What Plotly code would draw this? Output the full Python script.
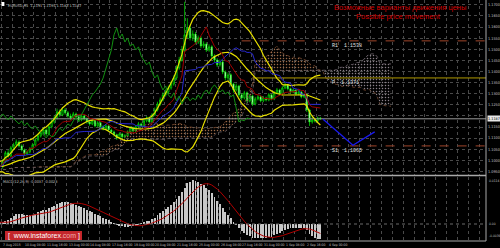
import datetime as dt
import numpy as np
import pandas as pd
import plotly.graph_objects as go

# ---------------- data ----------------
symbol = "EURUSD,H4"
first_open = 1.0975
closes = [1.0993,1.1034,1.1020,1.1056,1.1070,1.1083,1.1065,1.1047,1.1029,1.1038,
 1.1052,1.1070,1.1092,1.1110,1.1124,1.1137,1.1119,1.1151,1.1173,1.1191,
 1.1218,1.1205,1.1227,1.1214,1.1200,1.1191,1.1209,1.1196,1.1182,1.1200,
 1.1187,1.1173,1.1164,1.1178,1.1155,1.1169,1.1151,1.1142,1.1155,1.1137,
 1.1128,1.1115,1.1101,1.1119,1.1106,1.1110,1.1128,1.1146,1.1133,1.1151,
 1.1164,1.1155,1.1178,1.1191,1.1173,1.1205,1.1227,1.1254,1.1272,1.1295,
 1.1308,1.1326,1.1344,1.1371,1.1416,1.1452,1.1497,1.1565,1.1596,1.1551,
 1.1569,1.1533,1.1551,1.1515,1.1524,1.1497,1.1511,1.1470,1.1452,1.1430,
 1.1443,1.1398,1.1371,1.1385,1.1344,1.1317,1.1335,1.1295,1.1281,1.1304,
 1.1268,1.1290,1.1254,1.1277,1.1286,1.1268,1.1281,1.1272,1.1295,1.1277,
 1.1304,1.1317,1.1299,1.1326,1.1340,1.1322,1.1308,1.1317,1.1299,1.1308,
 1.1286,1.1295,1.1227,1.1173,1.1182,1.1178,1.1191,1.1187]
highs = [1.1005,1.1042,1.1046,1.1064,1.1079,1.1094,1.1090,1.1072,1.1053,1.1045,
 1.1060,1.1078,1.1101,1.1121,1.1133,1.1148,1.1144,1.1160,1.1184,1.1203,
 1.1233,1.1229,1.1240,1.1236,1.1222,1.1210,1.1218,1.1215,1.1203,1.1208,
 1.1206,1.1193,1.1180,1.1186,1.1183,1.1177,1.1174,1.1158,1.1163,1.1160,
 1.1143,1.1134,1.1120,1.1126,1.1124,1.1118,1.1135,1.1154,1.1152,1.1159,
 1.1173,1.1170,1.1186,1.1199,1.1197,1.1213,1.1238,1.1264,1.1283,1.1306,
 1.1320,1.1337,1.1356,1.1383,1.1428,1.1466,1.1515,1.1714,1.1640,1.1610,
 1.1585,1.1578,1.1562,1.1560,1.1536,1.1532,1.1522,1.1518,1.1478,1.1460,
 1.1454,1.1450,1.1405,1.1396,1.1392,1.1350,1.1346,1.1340,1.1302,1.1313,
 1.1310,1.1299,1.1296,1.1286,1.1294,1.1292,1.1289,1.1287,1.1303,1.1300,
 1.1312,1.1326,1.1322,1.1334,1.1349,1.1344,1.1327,1.1324,1.1320,1.1316,
 1.1312,1.1302,1.1299,1.1232,1.1195,1.1190,1.1197,1.1195]
lows = [1.0962,1.0988,1.1012,1.1015,1.1049,1.1062,1.1058,1.1040,1.1020,1.1022,
 1.1031,1.1046,1.1064,1.1085,1.1103,1.1116,1.1110,1.1113,1.1144,1.1165,
 1.1184,1.1196,1.1199,1.1206,1.1192,1.1182,1.1185,1.1188,1.1174,1.1176,
 1.1180,1.1165,1.1156,1.1158,1.1148,1.1149,1.1144,1.1135,1.1136,1.1130,
 1.1120,1.1107,1.1092,1.1095,1.1098,1.1099,1.1104,1.1122,1.1126,1.1127,
 1.1145,1.1148,1.1150,1.1171,1.1166,1.1168,1.1199,1.1220,1.1246,1.1265,
 1.1287,1.1300,1.1318,1.1336,1.1362,1.1408,1.1444,1.1488,1.1548,1.1540,
 1.1538,1.1522,1.1524,1.1505,1.1506,1.1488,1.1489,1.1460,1.1442,1.1420,
 1.1422,1.1388,1.1360,1.1362,1.1333,1.1305,1.1310,1.1284,1.1270,1.1274,
 1.1258,1.1261,1.1245,1.1248,1.1270,1.1261,1.1262,1.1265,1.1266,1.1270,
 1.1271,1.1298,1.1292,1.1293,1.1320,1.1315,1.1300,1.1302,1.1292,1.1293,
 1.1279,1.1280,1.1218,1.1155,1.1165,1.1170,1.1172,1.1183]
# closes before the visible window (indicator warm-up)
prior_closes = [1.0960,1.0972,1.0958,1.0945,1.0952,1.0968,1.0981,1.0975,1.0990,1.0984,
 1.0971,1.0963,1.0955,1.0949,1.0961,1.0976,1.0988,1.0995,1.0983,1.0970,
 1.0962,1.0958,1.0966,1.0979,1.0987,1.0981,1.0973,1.0969,1.0978,1.0975]

pivot_names = ["R1", "P", "S1"]
pivot_values = [1.1538, 1.1371, 1.1065]
pivot_start_bar = [88, 92, 88]

proj_bars = [118, 129, 137]
proj_prices = [1.1185, 1.1068, 1.1128]

title_ru = "Возможные варианты движения цены"
title_en = "Possible price movement"
start_time = dt.datetime(2015, 8, 7, 0, 0)

# ---------------- derived series ----------------
n = len(closes)
opens = [first_open] + closes[:-1]
idx = np.arange(n)
n_prior = len(prior_closes)
full_idx = np.arange(-n_prior, n)
c_all = pd.Series(prior_closes + closes)
h_all = pd.Series(prior_closes + highs)
l_all = pd.Series(prior_closes + lows)

sma = c_all.rolling(20, min_periods=1).mean()
sd = c_all.rolling(20, min_periods=1).std(ddof=0)
bb_up, bb_dn = sma + 2 * sd, sma - 2 * sd

tenkan = (h_all.rolling(9, min_periods=1).max() + l_all.rolling(9, min_periods=1).min()) / 2
kijun = (h_all.rolling(26, min_periods=1).max() + l_all.rolling(26, min_periods=1).min()) / 2
spanA = (tenkan + kijun) / 2
spanB = (h_all.rolling(52, min_periods=1).max() + l_all.rolling(52, min_periods=1).min()) / 2
kumo_x = full_idx + 26
kumo_lo = np.minimum(spanA, spanB)

ema12 = c_all.ewm(span=12, adjust=False).mean()
ema26 = c_all.ewm(span=26, adjust=False).mean()
macd = ema12 - ema26
signal = macd.rolling(9, min_periods=1).mean()

# bar times (H4, weekdays only)
times = []
t = start_time
while len(times) < n + 10:
    if t.weekday() < 5:
        times.append(t)
    t += dt.timedelta(hours=4)

# ---------------- figure ----------------
W, H = 500, 248
M_T, M_B, M_R = 0, 7, 14
PH = H - M_T - M_B
main_dom = [1 - 175 / PH, 1]
macd_dom = [1 - 240 / PH, 1 - 177 / PH]
XR = [-1, 178]
p_lo, p_hi = 1.0934, 1.1722
LBL = dict(size=3.8, color="#c0c0c0", family="DejaVu Sans Condensed, DejaVu Sans")

fig = go.Figure()

# Kumo
fig.add_trace(go.Scatter(x=kumo_x, y=kumo_lo, mode="lines", line=dict(width=0), hoverinfo="skip"))
fig.add_trace(go.Scatter(x=kumo_x, y=spanA, mode="lines", line=dict(color="#7a4a30", width=0.8, dash="dot"),
                         fill="tonexty", fillcolor="rgba(0,0,0,0)",
                         fillpattern=dict(shape=".", fgcolor="#9a6a48", bgcolor="rgba(0,0,0,0)", size=3, solidity=0.2)))
fig.add_trace(go.Scatter(x=kumo_x, y=kumo_lo, mode="lines", line=dict(width=0), hoverinfo="skip"))
fig.add_trace(go.Scatter(x=kumo_x, y=spanB, mode="lines", line=dict(color="#6a6068", width=0.8, dash="dot"),
                         fill="tonexty", fillcolor="rgba(0,0,0,0)",
                         fillpattern=dict(shape=".", fgcolor="#8a8088", bgcolor="rgba(0,0,0,0)", size=3, solidity=0.2)))

# current price line
fig.add_trace(go.Scatter(x=XR, y=[closes[-1]] * 2, mode="lines", line=dict(color="#9a9a9a", width=1)))

# pivots
piv_colors = ["#a0452a", "#b09a00", "#a0452a"]
piv_dash = ["dash", "solid", "dash"]
for name, v, s, col, ds in zip(pivot_names, pivot_values, pivot_start_bar, piv_colors, piv_dash):
    fig.add_trace(go.Scatter(x=[s, XR[1]], y=[v, v], mode="lines", line=dict(color=col, width=1, dash=ds)))
    fig.add_annotation(x=120.5, y=v, xref="x", yref="y", text=f"{name}  {v:.4f}", showarrow=False,
                       xanchor="left", yanchor="top", yshift=0,
                       font=dict(size=5, color="#e0e0e0", family="Liberation Mono, DejaVu Sans Mono"))

# Bollinger
for ser in (bb_up, sma, bb_dn):
    fig.add_trace(go.Scatter(x=full_idx, y=ser, mode="lines", line=dict(color="#e8e000", width=1.2)))
# Ichimoku lines
fig.add_trace(go.Scatter(x=full_idx, y=kijun, mode="lines", line=dict(color="#2828d0", width=1)))
fig.add_trace(go.Scatter(x=full_idx, y=tenkan, mode="lines", line=dict(color="#a00000", width=1)))
fig.add_trace(go.Scatter(x=full_idx - 26, y=c_all, mode="lines", line=dict(color="#129012", width=1)))

# projection
fig.add_trace(go.Scatter(x=proj_bars, y=proj_prices, mode="lines", line=dict(color="#1a1af0", width=1.3)))

# candles
fig.add_trace(go.Candlestick(x=idx, open=opens, high=highs, low=lows, close=closes,
                             increasing=dict(line=dict(color="#00ee00", width=0.7), fillcolor="#000000"),
                             decreasing=dict(line=dict(color="#00ee00", width=0.7), fillcolor="#ffffff"),
                             whiskerwidth=0))

# MACD
fig.add_trace(go.Bar(x=full_idx, y=macd, marker=dict(color="#c8c8c8", line=dict(width=0)), width=0.35,
                     xaxis="x2", yaxis="y2"))
fig.add_trace(go.Scatter(x=full_idx, y=signal, mode="lines", line=dict(color="#b00000", width=1),
                         xaxis="x2", yaxis="y2"))

m_hi = float(macd[full_idx >= 0].max()) * 1.08
m_lo = -m_hi * 16 / 47

ticks = [round(1.095 + 0.005 * k, 4) for k in range(16)]
tick_txt = ["" if abs(v - closes[-1]) < 0.003 else f"{v:.4f}" for v in ticks]
fig.update_layout(
    width=W, height=H, margin=dict(l=0, r=M_R, t=M_T, b=M_B),
    paper_bgcolor="#000000", plot_bgcolor="#000000", showlegend=False, template="none",
    font=dict(family="DejaVu Sans Condensed, DejaVu Sans", color="#c0c0c0"),
    xaxis=dict(domain=[0, 1], anchor="y", range=XR, showticklabels=False, ticks="",
               tick0=-0.5, dtick=4, showgrid=True, gridcolor="#4a4a4a", griddash="dot", gridwidth=1,
               zeroline=False, rangeslider=dict(visible=False), showline=False),
    xaxis2=dict(domain=[0, 1], anchor="y2", matches="x", range=XR, showticklabels=False, ticks="",
                tick0=-0.5, dtick=4, showgrid=True, gridcolor="#4a4a4a", griddash="dot", gridwidth=1,
                zeroline=False, showline=False),
    yaxis=dict(domain=main_dom, range=[p_lo, p_hi], side="right", tickvals=ticks,
               ticktext=tick_txt, tickfont=LBL,
               ticks="", showgrid=True, gridcolor="#4a4a4a", griddash="dot", gridwidth=1,
               zeroline=False, automargin=False, ticklabelstandoff=1),
    yaxis2=dict(domain=macd_dom, range=[m_lo, m_hi], side="right", showticklabels=False, ticks="",
                showgrid=False, zeroline=False, automargin=False),
    bargap=0,
)

# frame lines
fig.add_shape(type="line", xref="paper", yref="paper", x0=0, x1=1, y0=1 - 175.5 / PH, y1=1 - 175.5 / PH,
              line=dict(color="#a8a8a8", width=1.5))
fig.add_shape(type="line", xref="paper", yref="paper", x0=1, x1=1, y0=0, y1=1, line=dict(color="#a8a8a8", width=1))
fig.add_shape(type="line", xref="paper", yref="paper", x0=0, x1=1, y0=0, y1=0, line=dict(color="#a8a8a8", width=1))
fig.add_shape(type="line", xref="x2", yref="y2", x0=XR[0], x1=XR[1], y0=0, y1=0,
              line=dict(color="#6a6a6a", width=1, dash="dot"))

# current price tag
fig.add_annotation(xref="paper", yref="y", x=1, y=closes[-1], xanchor="left", text=f"{closes[-1]:.4f}",
                   showarrow=False, bgcolor="#e8e8e8", borderpad=0, xshift=0.5,
                   font=dict(size=3.8, color="#000000", family=LBL["family"]))

# MACD labels
SM = dict(LBL, size=3.3)
for val, txt, ya in ((m_hi, f"{m_hi:.4f}", "top"), (0, "0.00", "middle"), (m_lo, f"{m_lo:.4f}", "bottom")):
    fig.add_annotation(xref="paper", yref="y2", x=1, y=val, xanchor="left", yanchor=ya, text=txt,
                       showarrow=False, xshift=0.5, font=SM)
fig.add_annotation(xref="x", yref="paper", x=-0.5, y=1 - 177 / PH, xanchor="left", yanchor="top",
                   text=f"MACD(12,26,9) {macd.iloc[-1]:.4f} {signal.iloc[-1]:.4f}", showarrow=False,
                   font=LBL)

# header
fig.add_shape(type="rect", xref="paper", yref="paper", x0=0.003, x1=0.009, y0=1 - 6 / PH, y1=1 - 2 / PH,
              fillcolor="#ffffff", line=dict(width=0))
fig.add_annotation(xref="paper", yref="paper", x=0.012, y=1 - 1 / PH, xanchor="left", yanchor="top",
                   text=f"{symbol}  {opens[-1]:.4f} {highs[-1]:.4f} {lows[-1]:.4f} {closes[-1]:.4f}",
                   showarrow=False, font=LBL)
fig.add_annotation(xref="paper", yref="paper", x=400 / 486, y=1 - 1 / PH, xanchor="center", yanchor="top",
                   text=title_ru, showarrow=False, font=dict(size=7.5, color="#d00000", family="Liberation Sans"))
fig.add_annotation(xref="paper", yref="paper", x=398 / 486, y=1 - 10 / PH, xanchor="center", yanchor="top",
                   text=title_en, showarrow=False, font=dict(size=7.5, color="#d00000", family="Liberation Sans"))

# time labels
for i in range(0, 121, 8):
    tt = times[i]
    lab = f"{tt.day} {tt:%b} {tt.year}" if i == 0 else f"{tt.day} {tt:%b} {tt:%H:%M}"
    fig.add_annotation(xref="x", yref="paper", x=i - 0.5, y=0, xanchor="left", yanchor="top", yshift=0,
                       text=lab, showarrow=False, font=dict(size=3.4, color="#c0c0c0", family=LBL["family"]))

# logo
fig.add_shape(type="rect", xref="paper", yref="paper", x0=5 / 486, x1=82 / 486, y0=1 - 240 / PH, y1=1 - 231 / PH,
              fillcolor="#c4262b", line=dict(width=0))
fig.add_annotation(xref="paper", yref="paper", x=43.5 / 486, y=1 - 235.5 / PH, xanchor="center", yanchor="middle",
                   text="[  www.instaforex<span style='color:#f0b0b0'>.com</span> ]", showarrow=False,
                   font=dict(size=7, color="#ffffff", family="Liberation Sans"))

fig.write_html("out.html")
